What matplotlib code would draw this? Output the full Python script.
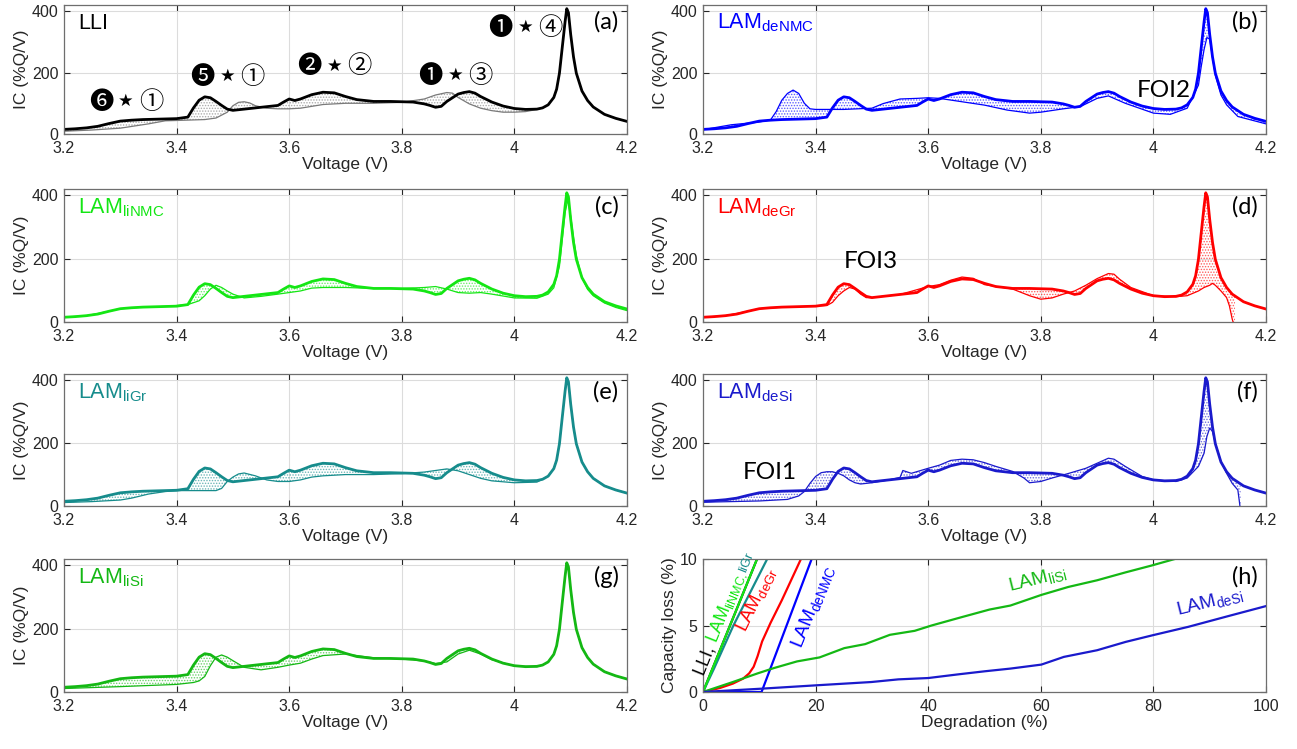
import numpy as np
import matplotlib
matplotlib.use("Agg")
import matplotlib.pyplot as plt

plt.rcParams['font.family'] = ['Liberation Sans', 'DejaVu Sans']
plt.rcParams['mathtext.default'] = 'regular'
plt.rcParams['hatch.linewidth'] = 0.7

# ---------------- incremental capacity data (V, %Q/V) ----------------
# fresh cell
v_fresh = [3.20, 3.22, 3.24, 3.26, 3.28, 3.30, 3.32, 3.34, 3.36, 3.38,
           3.40, 3.42, 3.43, 3.44, 3.45, 3.46, 3.47, 3.48, 3.49, 3.50,
           3.52, 3.55, 3.58, 3.59, 3.60, 3.61, 3.62, 3.64, 3.66, 3.68,
           3.70, 3.72, 3.75, 3.78, 3.80, 3.82, 3.84, 3.85, 3.86, 3.87,
           3.88, 3.90, 3.91, 3.92, 3.93, 3.94, 3.96, 3.98, 4.00, 4.02,
           4.04, 4.05, 4.06, 4.07, 4.075, 4.08, 4.085, 4.09, 4.093, 4.096,
           4.10, 4.105, 4.11, 4.12, 4.13, 4.14, 4.16, 4.18, 4.20]
ic_fresh = [15, 17, 20, 25, 34, 42, 45, 47, 48, 49,
            50, 55, 85, 110, 121, 118, 106, 93, 81, 77,
            81, 87, 93, 104, 114, 109, 114, 128, 136, 134,
            122, 112, 106, 106, 105, 104, 98, 93, 87, 90,
            106, 130, 135, 138, 133, 122, 104, 91, 83, 80,
            81, 85, 95, 119, 146, 198, 282, 365, 408, 395,
            324, 251, 198, 140, 109, 88, 64, 51, 41]

# high-voltage end shared by modes that leave the main NMC peak untouched
v_tail = [4.05, 4.06, 4.07, 4.075, 4.08, 4.085, 4.09, 4.093, 4.096,
          4.10, 4.105, 4.11, 4.12, 4.13, 4.14, 4.16, 4.18, 4.20]
ic_tail = [85, 95, 119, 146, 198, 282, 365, 408, 395,
           324, 251, 198, 140, 109, 88, 64, 51, 41]

# (a) loss of lithium inventory
v_lli = [3.20, 3.25, 3.30, 3.35, 3.38, 3.40, 3.45, 3.47, 3.49, 3.50,
         3.51, 3.52, 3.53, 3.54, 3.56, 3.58, 3.60, 3.62, 3.64, 3.66,
         3.70, 3.75, 3.80, 3.84, 3.86, 3.88, 3.89, 3.90, 3.92, 3.94,
         3.96, 3.98, 4.00, 4.02, 4.04] + v_tail
ic_lli = [9, 13, 19, 33, 43, 44, 47, 52, 71, 92,
          103, 105, 101, 92, 84, 82, 82, 84, 90, 96,
          100, 100, 103, 114, 127, 135, 133, 119, 98, 84,
          76, 71, 71, 73, 80] + ic_tail

# (b) delithiated NMC loss
v_denmc = [3.20, 3.25, 3.30, 3.32, 3.33, 3.34, 3.35, 3.36, 3.37, 3.38,
           3.39, 3.40, 3.45, 3.50, 3.52, 3.55, 3.58, 3.60, 3.62, 3.66,
           3.70, 3.74, 3.78, 3.80, 3.84, 3.87, 3.90, 3.92, 3.95, 4.00,
           4.03, 4.06, 4.08, 4.085, 4.09, 4.095, 4.10, 4.105, 4.11, 4.12,
           4.13, 4.15, 4.20]
ic_denmc = [14, 30, 39, 46, 73, 110, 132, 143, 132, 100,
            82, 80, 80, 84, 99, 114, 116, 118, 116, 105,
            94, 78, 68, 71, 82, 89, 116, 124, 100, 68,
            64, 84, 159, 220, 275, 314, 309, 250, 191, 127,
            95, 57, 33]

# (c) lithiated NMC loss
v_linmc = [3.20, 3.24, 3.28, 3.30, 3.34, 3.38, 3.42, 3.44, 3.45, 3.46,
           3.47, 3.48, 3.49, 3.50, 3.52, 3.55, 3.58, 3.60, 3.62, 3.64,
           3.66, 3.70, 3.75, 3.80, 3.84, 3.86, 3.88, 3.90, 3.92, 3.94,
           3.96, 4.00, 4.04, 4.06, 4.07, 4.08, 4.085, 4.09, 4.095, 4.10,
           4.105, 4.11, 4.12, 4.13, 4.14, 4.16, 4.18, 4.20]
ic_linmc = [15, 20, 34, 42, 47, 49, 55, 67, 83, 104,
            116, 109, 98, 88, 76, 81, 88, 93, 98, 107,
            109, 109, 106, 106, 109, 112, 104, 93, 91, 93,
            88, 76, 75, 88, 108, 176, 261, 345, 386, 334,
            267, 209, 140, 103, 83, 60, 46, 36]

# (d) delithiated graphite loss
v_degr = [3.20, 3.24, 3.28, 3.30, 3.34, 3.38, 3.42, 3.43, 3.44, 3.45,
          3.46, 3.47, 3.48, 3.49, 3.50, 3.55, 3.60, 3.62, 3.64, 3.66,
          3.68, 3.70, 3.75, 3.78, 3.80, 3.82, 3.84, 3.86, 3.88, 3.90,
          3.92, 3.93, 3.94, 3.96, 4.00, 4.04, 4.06, 4.08, 4.09, 4.10,
          4.105, 4.11, 4.12, 4.13, 4.135, 4.14, 4.145]
ic_degr = [15, 20, 34, 42, 47, 49, 52, 62, 83, 98,
           109, 104, 88, 77, 77, 87, 112, 118, 132, 142,
           138, 118, 104, 83, 72, 76, 88, 98, 116, 137,
           153, 151, 135, 109, 83, 80, 83, 98, 109, 116,
           122, 116, 98, 77, 51, 9, -20]

# (e) lithiated graphite loss
v_ligr = [3.20, 3.25, 3.30, 3.32, 3.35, 3.38, 3.40, 3.45, 3.47, 3.48,
          3.49, 3.50, 3.51, 3.52, 3.54, 3.56, 3.58, 3.60, 3.62, 3.64,
          3.66, 3.70, 3.75, 3.80, 3.84, 3.86, 3.88, 3.90, 3.92, 3.94,
          3.96, 4.00, 4.04] + v_tail
ic_ligr = [11, 14, 19, 25, 38, 46, 49, 49, 49, 56,
           78, 92, 102, 105, 96, 83, 78, 78, 83, 92,
           96, 100, 100, 103, 108, 113, 118, 112, 100, 88,
           80, 74, 76] + ic_tail

# (f) delithiated silicon loss
v_desi = [3.20, 3.30, 3.35, 3.37, 3.38, 3.39, 3.40, 3.41, 3.42, 3.43,
          3.44, 3.45, 3.46, 3.47, 3.48, 3.50, 3.53, 3.55, 3.555, 3.57,
          3.60, 3.62, 3.64, 3.66, 3.68, 3.70, 3.72, 3.75, 3.77, 3.78,
          3.80, 3.82, 3.85, 3.88, 3.90, 3.92, 3.93, 3.95, 3.98, 4.00,
          4.04, 4.06, 4.08, 4.09, 4.095, 4.10, 4.105, 4.11, 4.12, 4.13,
          4.14, 4.15, 4.153, 4.155]
ic_desi = [12, 16, 21, 32, 46, 72, 94, 106, 109, 109,
           104, 96, 83, 74, 70, 74, 83, 91, 113, 104,
           120, 130, 145, 149, 147, 138, 126, 110, 89, 74,
           78, 89, 104, 120, 136, 152, 149, 126, 94, 83,
           78, 89, 126, 168, 221, 248, 237, 200, 141, 104,
           72, 51, 10, -20]

# (g) lithiated silicon loss
v_lisi = [3.20, 3.30, 3.40, 3.43, 3.44, 3.45, 3.46, 3.47, 3.48, 3.49,
          3.50, 3.52, 3.55, 3.58, 3.60, 3.62, 3.64, 3.66, 3.70, 3.75,
          3.80, 3.84, 3.86, 3.88, 3.90, 3.92, 3.94, 3.96, 4.00, 4.04] + v_tail
ic_lisi = [11, 17, 24, 30, 35, 49, 83, 110, 117, 110,
           99, 78, 70, 78, 85, 91, 104, 115, 120, 108,
           104, 98, 90, 95, 120, 132, 120, 102, 82, 80] + ic_tail

# peak annotations in (a): (voltage, IC, electrode-stage marker, NMC marker)
mark_v = [3.31, 3.49, 3.68, 3.895, 4.02]
mark_ic = [104, 185, 220, 190, 345]
mark_left = ['❻', '❺', '❷', '❶', '❶']
mark_right = ['①', '①', '②', '③', '④']

# ---------------- capacity loss vs degradation (%) ----------------
deg_lli, loss_lli = [0, 9.6], [0, 10]
deg_linmc, loss_linmc = [0, 9.6], [0, 10]
deg_ligr, loss_ligr = [0, 2.0, 5.4, 11.4], [0, 1.8, 5.0, 10]
deg_degr = [0, 3.0, 5.3, 7.1, 8.2, 9.0, 9.7, 10.5, 12.0, 14.0, 17.4]
loss_degr = [0, 0.3, 0.63, 1.0, 1.4, 1.9, 2.7, 3.8, 5.2, 6.9, 10]
deg_denmc, loss_denmc = [0, 10.4, 19.3], [0, 0, 10]
deg_lisi = [0, 5.3, 9.7, 12.6, 16.7, 20.7, 25.1, 28.8, 33.2, 37.6, 40.6,
            45.7, 50.9, 54.6, 60.1, 64.9, 70.0, 75.1, 79.6, 83.8]
loss_lisi = [0, 0.75, 1.4, 1.8, 2.3, 2.6, 3.3, 3.6, 4.3, 4.6, 5.0,
             5.6, 6.2, 6.5, 7.3, 7.9, 8.4, 9.0, 9.5, 10]
deg_desi = [0, 10.4, 20, 29.9, 34.7, 40, 45.4, 50.1, 54.6, 60.1, 64.1,
            70, 75.1, 79.9, 86.2, 93.5, 100]
loss_desi = [0, 0.25, 0.5, 0.75, 0.95, 1.05, 1.33, 1.56, 1.76, 2.06, 2.64,
             3.14, 3.77, 4.27, 4.9, 5.73, 6.46]

volt_ticks = [3.2, 3.4, 3.6, 3.8, 4.0, 4.2]
volt_labels = ['3.2', '3.4', '3.6', '3.8', '4', '4.2']
ic_ticks = [0, 200, 400]

# colours
C_LLI = 'black'
C_LLI_DEG = '#7a7a7a'
C_DENMC = '#0000ff'
C_LINMC = '#14e614'
C_DEGR = '#ff0000'
C_LIGR = '#168c8c'
C_DESI = '#1a1acc'
C_LISI = '#14b814'
TXT = '#262626'
SYM_FONT = ['Noto Sans CJK JP', 'DejaVu Sans']

W, H = 1297, 749
fig = plt.figure(figsize=(W / 100, H / 100), dpi=100)

cols = [64, 703]
col_w = 563
rows = [(5, 134), (189, 322), (374, 506), (559, 692)]


def make_axes(col, row):
    top, bot = rows[row]
    return fig.add_axes([cols[col] / W, 1 - bot / H, col_w / W, (bot - top) / H])


def style(ax):
    ax.grid(True, color='#dcdcdc', lw=0.8)
    ax.set_axisbelow(True)
    ax.tick_params(direction='in', length=4, top=True, right=True,
                   labelsize=11.5, colors=TXT)
    ax.tick_params(axis='x', pad=5)
    ax.tick_params(axis='y', pad=4)
    for s in ax.spines.values():
        s.set_color('#6e6e6e')
        s.set_linewidth(0.9)


def ic_panel(ax, v_deg, ic_deg, c_fresh, c_deg, title, letter):
    vf = np.asarray(v_fresh, float)
    yf = np.asarray(ic_fresh, float)
    vd = np.asarray(v_deg, float)
    yd = np.asarray(ic_deg, float)
    grid = np.union1d(vf, vd)
    grid = grid[grid <= vd.max()]
    ax.fill_between(grid, np.interp(grid, vf, yf), np.interp(grid, vd, yd),
                    facecolor='none', edgecolor=c_deg, hatch='......',
                    linewidth=0, alpha=0.6)
    ax.plot(vd, yd, color=c_deg, lw=0.9)
    ax.plot(vf, yf, color=c_fresh, lw=2.0)
    ax.set_xlim(3.2, 4.2)
    ax.set_ylim(0, 420)
    ax.set_xticks(volt_ticks)
    ax.set_xticklabels(volt_labels)
    ax.set_yticks(ic_ticks)
    ax.set_xlabel('Voltage (V)', fontsize=12.5, color=TXT, labelpad=1)
    ax.set_ylabel('IC (%Q/V)', fontsize=12.5, color=TXT, labelpad=2)
    style(ax)
    ax.text(0.025, 0.815, title, transform=ax.transAxes, fontsize=15.5,
            color=c_fresh, va='baseline')
    ax.text(0.985, 0.815, letter, transform=ax.transAxes, fontsize=17,
            family='Lato', color='black', ha='right', va='baseline')


ax_a = make_axes(0, 0)
ic_panel(ax_a, v_lli, ic_lli, C_LLI, C_LLI_DEG, 'LLI', '(a)')
for x, y, left, right in zip(mark_v, mark_ic, mark_left, mark_right):
    ax_a.annotate(left, xy=(x, y), xytext=(-25, 0), textcoords='offset pixels',
                  ha='center', va='center', fontsize=17.5, family=SYM_FONT)
    ax_a.annotate('★', xy=(x, y), xytext=(0, 1), textcoords='offset pixels',
                  ha='center', va='center', fontsize=12.5, family='DejaVu Sans')
    ax_a.annotate(right, xy=(x, y), xytext=(25, 0), textcoords='offset pixels',
                  ha='center', va='center', fontsize=17.5, family=SYM_FONT)

ax_b = make_axes(1, 0)
ic_panel(ax_b, v_denmc, ic_denmc, C_DENMC, C_DENMC, 'LAM$_{deNMC}$', '(b)')
ax_b.text(3.97, 143, 'FOI2', fontsize=17.5, family='Lato', va='center')

ax_c = make_axes(0, 1)
ic_panel(ax_c, v_linmc, ic_linmc, C_LINMC, C_LINMC, 'LAM$_{liNMC}$', '(c)')

ax_d = make_axes(1, 1)
ic_panel(ax_d, v_degr, ic_degr, C_DEGR, C_DEGR, 'LAM$_{deGr}$', '(d)')
ax_d.text(3.45, 190, 'FOI3', fontsize=17.5, family='Lato', va='center')

ax_e = make_axes(0, 2)
ic_panel(ax_e, v_ligr, ic_ligr, C_LIGR, C_LIGR, 'LAM$_{liGr}$', '(e)')

ax_f = make_axes(1, 2)
ic_panel(ax_f, v_desi, ic_desi, C_DESI, C_DESI, 'LAM$_{deSi}$', '(f)')
ax_f.text(3.27, 108, 'FOI1', fontsize=17.5, family='Lato', va='center')

ax_g = make_axes(0, 3)
ic_panel(ax_g, v_lisi, ic_lisi, C_LISI, C_LISI, 'LAM$_{liSi}$', '(g)')

# (h) capacity loss against degree of each degradation mode
ax_h = make_axes(1, 3)
ax_h.plot(deg_lli, loss_lli, color=C_LLI, lw=1.6)
ax_h.plot(deg_ligr, loss_ligr, color=C_LIGR, lw=1.6)
ax_h.plot(deg_linmc, loss_linmc, color=C_LINMC, lw=1.6)
ax_h.plot(deg_degr, loss_degr, color=C_DEGR, lw=1.6)
ax_h.plot(deg_denmc, loss_denmc, color=C_DENMC, lw=1.6)
ax_h.plot(deg_lisi, loss_lisi, color=C_LISI, lw=1.6)
ax_h.plot(deg_desi, loss_desi, color=C_DESI, lw=1.6)
ax_h.set_xlim(0, 100)
ax_h.set_ylim(0, 10)
ax_h.set_xticks([0, 20, 40, 60, 80, 100])
ax_h.set_yticks([0, 5, 10])
ax_h.set_xlabel('Degradation (%)', fontsize=12.5, color=TXT, labelpad=1)
ax_h.set_ylabel('Capacity loss (%)', fontsize=12.5, color=TXT, labelpad=2)
style(ax_h)
ax_h.text(0.985, 0.815, '(h)', transform=ax_h.transAxes, fontsize=17,
          family='Lato', ha='right', va='baseline')

ax_h.text(9.4, 7.0, 'LAM$_{deGr}$', color=C_DEGR, fontsize=13.5,
          rotation=64, ha='center', va='center', rotation_mode='anchor')
ax_h.text(19.6, 6.4, 'LAM$_{deNMC}$', color=C_DENMC, fontsize=14,
          rotation=68, ha='center', va='center', rotation_mode='anchor')
ax_h.text(59.5, 8.5, 'LAM$_{liSi}$', color=C_LISI, fontsize=14,
          rotation=14, ha='center', va='center', rotation_mode='anchor')
ax_h.text(90, 6.8, 'LAM$_{deSi}$', color=C_DESI, fontsize=14,
          rotation=14, ha='center', va='center', rotation_mode='anchor')

# multi-coloured label running along the steep lines
renderer = fig.canvas.get_renderer()
pieces = [('LLI, ', C_LLI), ('LAM$_{liNMC,}$', C_LINMC), ('$_{liGr}$', C_LIGR)]
ang = np.deg2rad(68)
offset = 0.0
for s, c in pieces:
    ax_h.annotate(s, xy=(0.05, 1.2), xycoords='data',
                  xytext=(offset * np.cos(ang), offset * np.sin(ang)),
                  textcoords='offset pixels', color=c, fontsize=13,
                  rotation=68, rotation_mode='anchor',
                  ha='left', va='baseline')
    probe = fig.text(0, 0, s, fontsize=13)
    offset += probe.get_window_extent(renderer).width
    probe.remove()

fig.savefig('out.png', dpi=100, facecolor='white')
